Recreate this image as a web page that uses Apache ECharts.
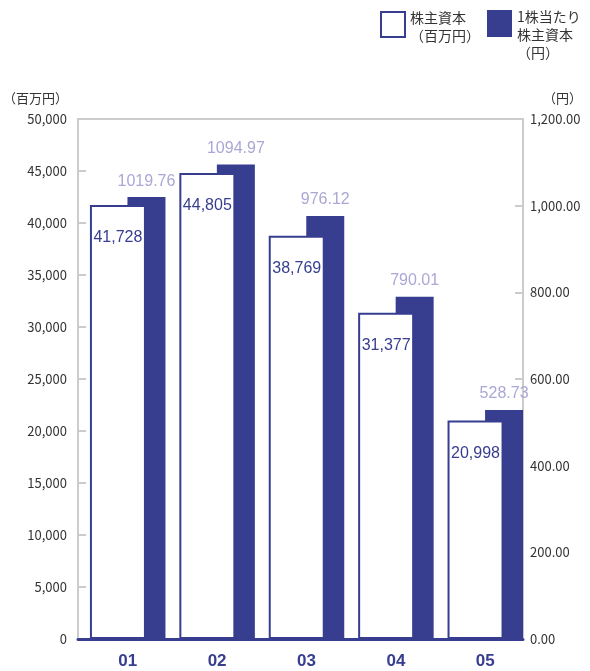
<!DOCTYPE html>
<html lang="ja">
  <head>
    <meta charset="UTF-8" />
    <title>株主資本</title>
    <script src="https://cdn.jsdelivr.net/npm/echarts@6/dist/echarts.min.js"></script>
    <style>
      body { margin: 0; background: #fff; }
    </style>
  </head>
  <body>
    <div id="chart" style="width: 590px; height: 671px"></div>

    <script type="text/javascript">
      // data
      const categories = ["01", "02", "03", "04", "05"];
      const equity = [41728, 44805, 38769, 31377, 20998]; // 百万円
      const perShare = [1019.76, 1094.97, 976.12, 790.01, 528.73]; // 円

      const equityName = "株主資本\n（百万円）";
      const perShareName = "1株当たり\n株主資本\n（円）";

      const navy = "#373e8f";
      const lilac = "#aaa7d5";
      const grey = "#cccccc";
      const jp = "'Noto Sans CJK JP', 'Liberation Sans', sans-serif";
      const num = "'Liberation Sans', Arial, sans-serif";

      // legend text is top aligned with the icon: push it down with an empty first line
      function legendText(name) {
        return "{p| }\n" + name.split("\n").map((l) => "{t|" + l + "}").join("\n");
      }
      function legendStyle(gap) {
        return {
          color: "#333",
          rich: {
            p: { fontSize: 1, lineHeight: gap },
            t: { fontSize: 14, lineHeight: 18, color: "#333" },
          },
        };
      }

      let chart = echarts.init(document.getElementById("chart"));

      const option = {
        backgroundColor: "#fff",
        animation: false,
        textStyle: { fontFamily: jp },
        legend: [
          {
            data: [equityName],
            left: 380,
            top: 6,
            padding: 0,
            icon: "rect",
            itemWidth: 24,
            itemHeight: 25,
            itemGap: 0,
            selectedMode: false,
            formatter: legendText,
            textStyle: legendStyle(5),
          },
          {
            data: [perShareName],
            left: 487,
            top: -4,
            padding: 0,
            icon: "rect",
            itemWidth: 25,
            itemHeight: 27,
            selectedMode: false,
            formatter: legendText,
            textStyle: legendStyle(23),
          },
        ],
        grid: [
          // frame + visible axes
          { left: 76, right: 67, top: 119, bottom: 32, show: true, borderColor: grey, borderWidth: 2 },
          // bars, shifted slightly right like the original
          { left: 83, right: 60, top: 119, bottom: 32 },
        ],
        xAxis: [
          {
            gridIndex: 0,
            type: "category",
            data: categories,
            z: 10,
            axisLine: { lineStyle: { color: navy, width: 3 } },
            axisTick: { show: false },
            axisLabel: { show: false },
          },
          {
            gridIndex: 1,
            type: "category",
            data: categories,
            axisLine: { show: false },
            axisTick: { show: false },
            axisLabel: { color: navy, fontSize: 17, fontWeight: "bold", fontFamily: num, margin: 14 },
          },
        ],
        yAxis: [
          {
            gridIndex: 0,
            type: "value",
            min: 0,
            max: 50000,
            interval: 5000,
            name: "（百万円）",
            nameLocation: "end",
            nameGap: 14,
            nameTextStyle: { color: "#333", fontSize: 13, align: "right", padding: [0, 10, 0, 0] },
            axisLine: { show: true, lineStyle: { color: grey, width: 2 } },
            axisTick: { show: true, inside: true, length: 8, lineStyle: { color: grey, width: 2 } },
            axisLabel: { color: "#333", fontSize: 13, margin: 11, formatter: (v) => v.toLocaleString("en-US") },
            splitLine: { show: false },
          },
          {
            gridIndex: 0,
            type: "value",
            position: "right",
            min: 0,
            max: 1200,
            interval: 200,
            name: "（円）",
            nameLocation: "end",
            nameGap: 14,
            nameTextStyle: { color: "#333", fontSize: 13, align: "left", padding: [0, 0, 0, 20] },
            axisLine: { show: true, lineStyle: { color: grey, width: 2 } },
            axisTick: { show: true, inside: true, length: 8, lineStyle: { color: grey, width: 2 } },
            axisLabel: {
              color: "#333",
              fontSize: 13,
              margin: 7,
              formatter: (v) => v.toLocaleString("en-US", { minimumFractionDigits: 2, maximumFractionDigits: 2 }),
            },
            splitLine: { show: false },
          },
          { gridIndex: 1, type: "value", min: 0, max: 50000, show: false },
          { gridIndex: 1, type: "value", min: 0, max: 1200, show: false },
        ],
        series: [
          {
            name: equityName,
            type: "bar",
            xAxisIndex: 1,
            yAxisIndex: 2,
            barWidth: 56,
            barGap: "-33%",
            z: 3,
            data: equity,
            itemStyle: { color: "#fff", borderColor: navy, borderWidth: 2 },
            label: {
              show: true,
              position: "insideTop",
              distance: 25,
              color: navy,
              fontSize: 16,
              fontFamily: num,
              formatter: (p) => p.value.toLocaleString("en-US"),
            },
          },
          {
            name: perShareName,
            type: "bar",
            xAxisIndex: 1,
            yAxisIndex: 3,
            barWidth: 38,
            z: 2,
            data: perShare,
            itemStyle: { color: navy },
            label: {
              show: true,
              position: "top",
              distance: 8,
              color: lilac,
              fontSize: 16,
              fontFamily: num,
              formatter: (p) => p.value.toFixed(2),
            },
          },
        ],
      };

      chart.setOption(option);
    </script>
  </body>
</html>
